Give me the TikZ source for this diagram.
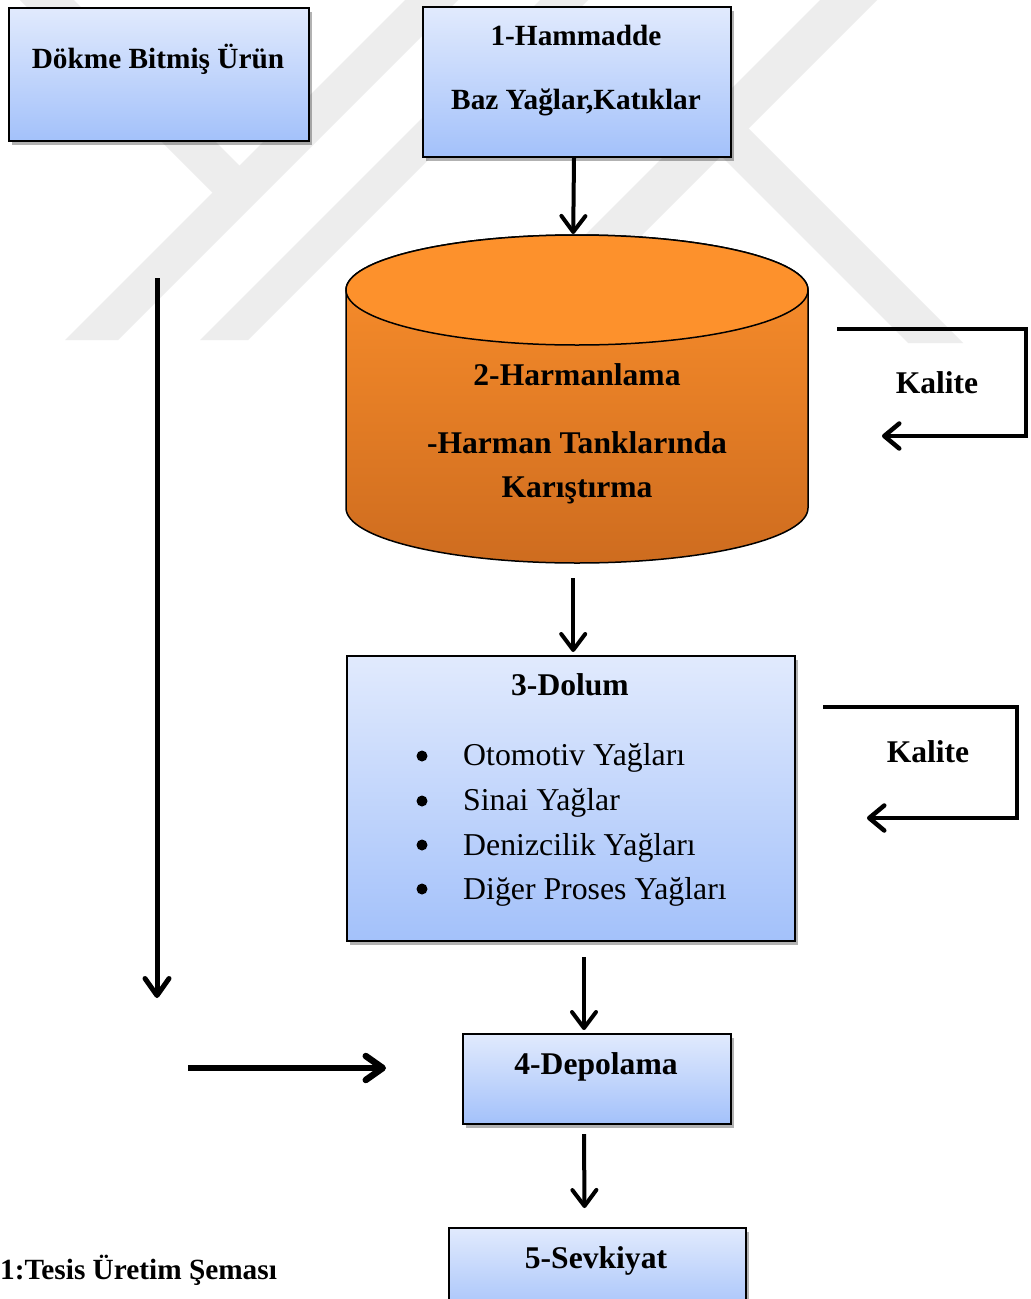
\documentclass[tikz,border=0pt]{standalone}
\usepackage{fontspec}
\setmainfont{Liberation Serif}
\usetikzlibrary{arrows.meta,shadows,calc}
\definecolor{boxtop}{HTML}{E1EAFD}
\definecolor{boxbot}{HTML}{A3C1FA}
\definecolor{cyltop}{HTML}{FC902C}
\definecolor{cylbot}{HTML}{CE6C1F}
\definecolor{cylcap}{HTML}{FD912C}
\definecolor{wmark}{HTML}{EDEDED}
\begin{document}
\begin{tikzpicture}[x=1pt,y=-1pt,
  box/.style={draw=black, line width=2pt, top color=boxtop, bottom color=boxbot,
    anchor=north west, inner sep=0pt,
    drop shadow={shadow xshift=3pt, shadow yshift=-4pt, opacity=0.3, fill=black}},
  tsmall/.style={font=\bfseries\fontsize{29.3}{34}\selectfont, inner sep=0pt},
  tbig/.style={font=\bfseries\fontsize{31.6}{36}\selectfont, inner sep=0pt},
  titem/.style={font=\fontsize{31.8}{36}\selectfont, inner sep=0pt, anchor=base west},
  bul/.style={circle, fill=black, inner sep=0pt, minimum size=11pt},
  arr/.style={line width=4pt, -{Straight Barb[length=16pt,width=24pt,round]}},
  fb/.style={line width=4.5pt, -{Straight Barb[length=15pt,width=25pt,round]}},
  wm/.style={fill=wmark, draw=none}]
\useasboundingbox (0,0) rectangle (1031,1299);
\clip (0,0) rectangle (1031,1299);
\fill[white] (0,0) rectangle (1031,1299);
% watermark
\path[wm] (65,340) -- (118,340) -- (458,0) -- (405,0) -- cycle;
\path[wm] (200,340) -- (248,340) -- (588,0) -- (540,0) -- cycle;
\path[wm] (20,0) -- (74,0) -- (245,171) -- (218,198) -- cycle;
\path[wm] (480,340) -- (537,340) -- (877,0) -- (820,0) -- cycle;
\path[wm] (690,125) -- (745,125) -- (963,343) -- (908,343) -- cycle;

% boxes
\node[box, minimum width=300pt, minimum height=133pt] (dokme) at (8,7) {};
\node[tsmall, anchor=base] (dokmeT) at (158,68) {Dökme Bitmiş Ürün};

\node[box, minimum width=308pt, minimum height=150pt] (ham) at (422,6) {};
\node[tsmall, anchor=base] (hamT1) at (576,45) {1-Hammadde};
\node[tsmall, anchor=base] (hamT2) at (576,109) {Baz Yağlar,Katıklar};

% cylinder
\shade[top color=cyltop, bottom color=cylbot, draw=black, line width=1.5pt]
  (346,290) -- (346,508) arc[start angle=180, end angle=360, x radius=231pt, y radius=55pt]
  -- (808,290) arc[start angle=0, end angle=180, x radius=231pt, y radius=55pt] -- cycle;
\draw[fill=cylcap, line width=1.5pt] (577,290) ellipse [x radius=231pt, y radius=55pt];
\node[minimum width=462pt, minimum height=328pt, anchor=north west, inner sep=0pt] (cyl) at (346,235) {};
\node[tbig, anchor=base] (cylT1) at (577,385) {2-Harmanlama};
\node[tbig, anchor=base] (cylT2) at (577,453) {-Harman Tanklarında};
\node[tbig, anchor=base] (cylT3) at (577,497) {Karıştırma};

% Dolum
\node[box, minimum width=448pt, minimum height=285pt] (dolum) at (346,655) {};
\node[tbig, anchor=base] (dolumT) at (570,695) {3-Dolum};
\node[bul] (b1) at (422,756) {};
\node[bul] (b2) at (422,801) {};
\node[bul] (b3) at (422,845) {};
\node[bul] (b4) at (422,889) {};
\node[titem] (i1) at (463,765) {Otomotiv Yağları};
\node[titem] (i2) at (463,810) {Sinai Yağlar};
\node[titem] (i3) at (463,855) {Denizcilik Yağları};
\node[titem] (i4) at (463,899) {Diğer Proses Yağları};

% Depolama, Sevkiyat
\node[box, minimum width=268pt, minimum height=90pt] (depo) at (462,1033) {};
\node[tbig, anchor=base] (depoT) at (596,1074) {4-Depolama};
\node[box, minimum width=297pt, minimum height=90pt] (sevk) at (448,1227) {};
\node[tbig, anchor=base] (sevkT) at (596,1268) {5-Sevkiyat};

% Kalite labels
\node[tbig, anchor=base] (kal1) at (937,393) {Kalite};
\node[tbig, anchor=base] (kal2) at (928,762) {Kalite};

% caption
\node[tsmall, anchor=base west] (cap) at (0,1279) {1:Tesis Üretim Şeması};

% connectors
\draw[arr, shorten >=1pt] ($(ham.south)+(-3,0)$) -- ($(cyl.north)+(-4,0)$);
\draw[arr, shorten <=15pt, shorten >=3pt] ($(cyl.south)+(-4,0)$) -- ($(cyl.south |- dolum.north)+(-4,0)$);
\draw[arr] ($(dolum.south)+(13,15)$) -- ($(depo.north)+(-13,-3)$);
\draw[arr] ($(depo.south)+(-13,9)$) -- ($(sevk.north)+(-13,-19)$);

\coordinate (lt) at (157,278);
\coordinate (lb) at (157,998);
\draw[line width=5pt, -{Straight Barb[length=17pt,width=24pt,round]}] (lt) -- (lb);
\coordinate (hl) at (188,1068);
\coordinate (hr) at (386,1068);
\draw[line width=6.5pt, -{Straight Barb[length=17pt,width=24pt,round]}] (hl) -- (hr);

\coordinate (k1s) at (837,329);
\coordinate (k1c) at (1026,329);
\coordinate (k1e) at (882,436);
\draw[fb] (k1s) -- (k1c) |- (k1e);
\coordinate (k2s) at (823,707);
\coordinate (k2c) at (1017,707);
\coordinate (k2e) at (867,818);
\draw[fb] (k2s) -- (k2c) |- (k2e);
\end{tikzpicture}
\end{document}
